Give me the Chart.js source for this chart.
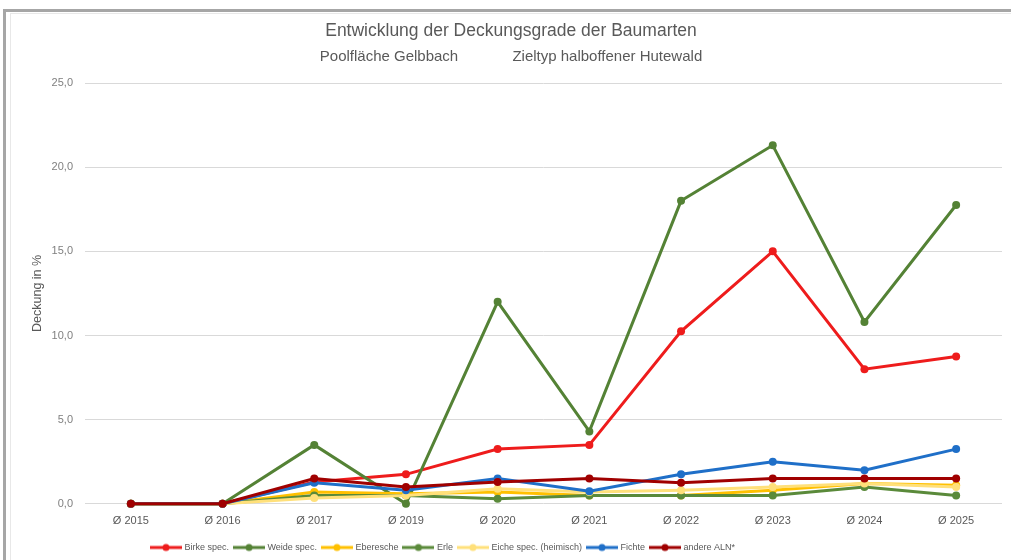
<!DOCTYPE html>
<html>
<head>
<meta charset="utf-8">
<script src="https://cdn.jsdelivr.net/npm/chart.js@4/dist/chart.umd.min.js"></script>
<style>
  html, body { margin: 0; padding: 0; background: #ffffff; overflow: hidden; }
  #frame { position: absolute; left: 3px; top: 9px; width: 1200px; height: 700px;
           border-left: 3px solid #a6a6a6; border-top: 3px solid #a6a6a6; }
  #inner { position: absolute; left: 10px; top: 13px; width: 1200px; height: 700px;
           border-left: 1px solid #e8e8e8; border-top: 1px solid #e8e8e8; }
  #wrap { position: absolute; left: 0; top: 0; width: 1011px; height: 560px; }
</style>
</head>
<body>
<div id="frame"></div>
<div id="inner"></div>
<div id="wrap"><canvas id="c" width="1011" height="560"></canvas></div>
<script>
const categories = ['Ø 2015','Ø 2016','Ø 2017','Ø 2019','Ø 2020','Ø 2021','Ø 2022','Ø 2023','Ø 2024','Ø 2025'];
const seriesNames = ['Birke spec.','Weide spec.','Eberesche','Erle','Eiche spec. (heimisch)','Fichte','andere ALN*'];
const birke     = [0, 0, 1.3, 1.75, 3.25, 3.5, 10.25, 15.0, 8.0, 8.75];
const weide     = [0, 0, 3.5, 0, 12.0, 4.3, 18.0, 21.3, 10.8, 17.75];
const eberesche = [0, 0, 0.7, 0.6, 0.7, 0.5, 0.5, 0.8, 1.2, 1.1];
const erle      = [0, 0, 0.5, 0.5, 0.3, 0.5, 0.5, 0.5, 1.0, 0.5];
const eiche     = [0, 0, 0.35, 0.5, 0.9, 0.7, 0.8, 1.0, 1.2, 1.0];
const fichte    = [0, 0, 1.25, 0.8, 1.5, 0.75, 1.75, 2.5, 2.0, 3.25];
const andere    = [0, 0, 1.5, 1.0, 1.3, 1.5, 1.25, 1.5, 1.5, 1.5];
const yTicks    = [0, 5, 10, 15, 20, 25];

const values = [birke, weide, eberesche, erle, eiche, fichte, andere];
const colors = ['#ee1c1c', '#548235', '#ffc000', '#5a8a3a', '#ffe07a', '#1f6fc8', '#a00000'];

function legendMarker(color) {
  const cv = document.createElement('canvas');
  cv.width = 32; cv.height = 10;
  const g = cv.getContext('2d');
  g.strokeStyle = color; g.lineWidth = 3;
  g.beginPath(); g.moveTo(0, 5); g.lineTo(32, 5); g.stroke();
  g.fillStyle = color;
  g.beginPath(); g.arc(16, 5, 3.5, 0, Math.PI * 2); g.fill();
  return cv;
}
const markers = colors.map(legendMarker);

const datasets = values.map((v, i) => ({
  label: seriesNames[i],
  data: v,
  borderColor: colors[i],
  backgroundColor: colors[i],
  borderWidth: 3,
  pointRadius: 4,
  pointBorderWidth: 0,
  pointBackgroundColor: colors[i],
  tension: 0,
  clip: false,
  order: values.length - 1 - i
}));

const layoutShift = {
  id: 'layoutShift',
  afterLayout(chart) {
    if (chart.legend) { chart.legend.left = 146; }
    chart.boxes.forEach(b => {
      if (b.position === 'top' && !b.axis) { b.left += 20; b.right += 0; }
    });
  }
};

Chart.defaults.font.family = '"Liberation Sans", Arial, sans-serif';

new Chart(document.getElementById('c'), {
  type: 'line',
  data: { labels: categories, datasets },
  plugins: [layoutShift],
  options: {
    responsive: false,
    animation: false,
    devicePixelRatio: 1,
    layout: { padding: { left: 0, right: 9, top: 0, bottom: -2 } },
    plugins: {
      tooltip: { enabled: false },
      title: {
        display: true,
        text: 'Entwicklung der Deckungsgrade der Baumarten',
        color: '#595959',
        font: { size: 17.5, weight: 'normal' },
        padding: { top: 20.5, bottom: 0 }
      },
      subtitle: {
        display: true,
        text: 'Poolfläche Gelbbach             Zieltyp halboffener Hutewald',
        color: '#595959',
        font: { size: 15, weight: 'normal' },
        padding: { top: 6.5, bottom: 17 }
      },
      legend: {
        position: 'bottom',
        align: 'start',
        labels: {
          usePointStyle: true,
          pointStyleWidth: 28,
          padding: 6,
          color: '#595959',
          font: { size: 9 },
          generateLabels(chart) {
            return chart.data.datasets.map((ds, i) => ({
              text: ds.label,
              fillStyle: colors[i],
              strokeStyle: colors[i],
              lineWidth: 0,
              pointStyle: markers[i],
              datasetIndex: i,
              hidden: false,
              fontColor: '#595959'
            }));
          }
        }
      }
    },
    scales: {
      x: {
        offset: true,
        grid: { display: false, drawTicks: false },
        border: { display: false },
        ticks: { color: '#595959', font: { size: 11 }, padding: 10.5, maxRotation: 0, autoSkip: false },
        afterFit(scale) { scale.height = 33.2; }
      },
      y: {
        min: 0, max: 25,
        afterBuildTicks(scale) { scale.ticks = yTicks.map(v => ({ value: v })); },
        grid: { color: '#d9d9d9', lineWidth: 1, drawTicks: false },
        border: { display: false },
        ticks: {
          color: '#7f7f7f', font: { size: 11 }, padding: 12,
          callback: v => Number(v).toFixed(1).replace('.', ',')
        },
        title: {
          display: true, text: 'Deckung in %', color: '#595959',
          font: { size: 12.5 }, padding: { top: 30.5, bottom: 0 }
        },
        afterFit(scale) { scale.width = 85; }
      }
    }
  }
});
</script>
</body>
</html>
